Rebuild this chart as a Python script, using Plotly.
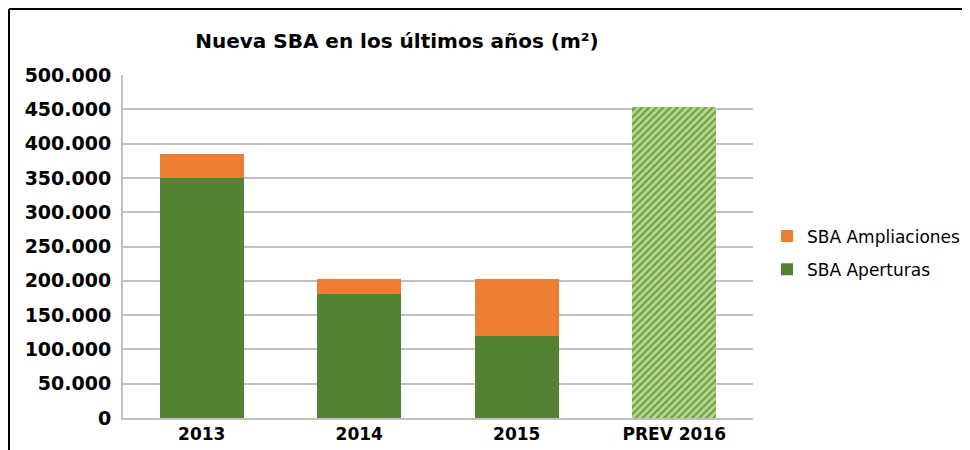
import plotly.graph_objects as go

categories = ["2013", "2014", "2015", "PREV 2016"]
aperturas = [350000, 181000, 120000, None]
ampliaciones = [35000, 22000, 82000, None]
prevision = [None, None, None, 453000]
tick_vals = [0, 50000, 100000, 150000, 200000, 250000, 300000, 350000, 400000, 450000, 500000]
tick_labels = ["0", "50.000", "100.000", "150.000", "200.000", "250.000", "300.000",
               "350.000", "400.000", "450.000", "500.000"]

W, H = 970, 450
OFF = 7  # page offset of the figure
ml, mr, mt, mb = 115, 225, 67, 40
pw, ph = W - ml - mr, H - mt - mb

bold_font = "DejaVu Sans, Liberation Sans, Arial"
xtick_font = dict(family=bold_font, size=17, color="#000000")
ytick_font = dict(family=bold_font, size=19, color="#000000")

fig = go.Figure()
fig.add_trace(go.Bar(x=categories, y=aperturas, name="SBA Aperturas", legendgroup="g2", legendrank=2,
                     marker=dict(color="#548235", line=dict(width=0))))
fig.add_trace(go.Bar(x=categories, y=ampliaciones, name="SBA Ampliaciones", legendgroup="g1", legendrank=1,
                     marker=dict(color="#ED7D31", line=dict(width=0))))
fig.add_trace(go.Bar(x=categories, y=prevision, name="PREV", showlegend=False,
                     marker=dict(color="#A9D18E", line=dict(width=0),
                                 pattern=dict(shape="/", fgcolor="#70A040", bgcolor="#B5D896",
                                              size=5, solidity=0.45, fillmode="replace"))))

fig.update_layout(
    width=W, height=H,
    barmode="stack", bargap=0.466,
    paper_bgcolor="white", plot_bgcolor="white",
    margin=dict(l=ml, r=mr, t=mt, b=mb, autoexpand=False),
    title=dict(text="<b>Nueva SBA en los últimos años (m²)</b>",
               font=dict(family=bold_font, size=20, color="#000000"),
               x=(396 - OFF) / W, xanchor="center", y=1 - (40 - OFF) / H, yanchor="middle"),
    legend=dict(x=(766 - OFF - ml) / pw, y=(417 - 252) / ph, xanchor="left", yanchor="middle",
                traceorder="grouped", font=dict(family="DejaVu Sans, Liberation Sans, Arial", size=17, color="#000000"),
                itemwidth=30, tracegroupgap=8, bgcolor="rgba(0,0,0,0)"),
    xaxis=dict(tickfont=xtick_font, ticks="", showline=True, linecolor="#BFBFBF", linewidth=2,
               tickprefix="<b>", ticksuffix="</b>"),
    yaxis=dict(range=[0, 500000], tickvals=tick_vals,
               ticktext=["<b>" + t + "</b>" for t in tick_labels], tickfont=ytick_font,
               showgrid=True, gridcolor="#BFBFBF", gridwidth=2, ticklabelstandoff=6,
               showline=True, linecolor="#BFBFBF", linewidth=2, ticks="", ticklen=0,
               zeroline=False),
    shapes=[
        dict(type="line", xref="paper", yref="paper", x0=(8 - OFF - ml) / pw, x1=(W + 5 - ml) / pw,
             y0=1 + (mt - 8 + OFF) / ph, y1=1 + (mt - 8 + OFF) / ph, line=dict(color="#000000", width=2)),
        dict(type="line", xref="paper", yref="paper", x0=(8 - OFF - ml) / pw, x1=(8 - OFF - ml) / pw,
             y0=1 + (mt - 8 + OFF) / ph, y1=-(mb + 5) / ph, line=dict(color="#000000", width=2)),
    ],
)

fig.write_html("out.html")
